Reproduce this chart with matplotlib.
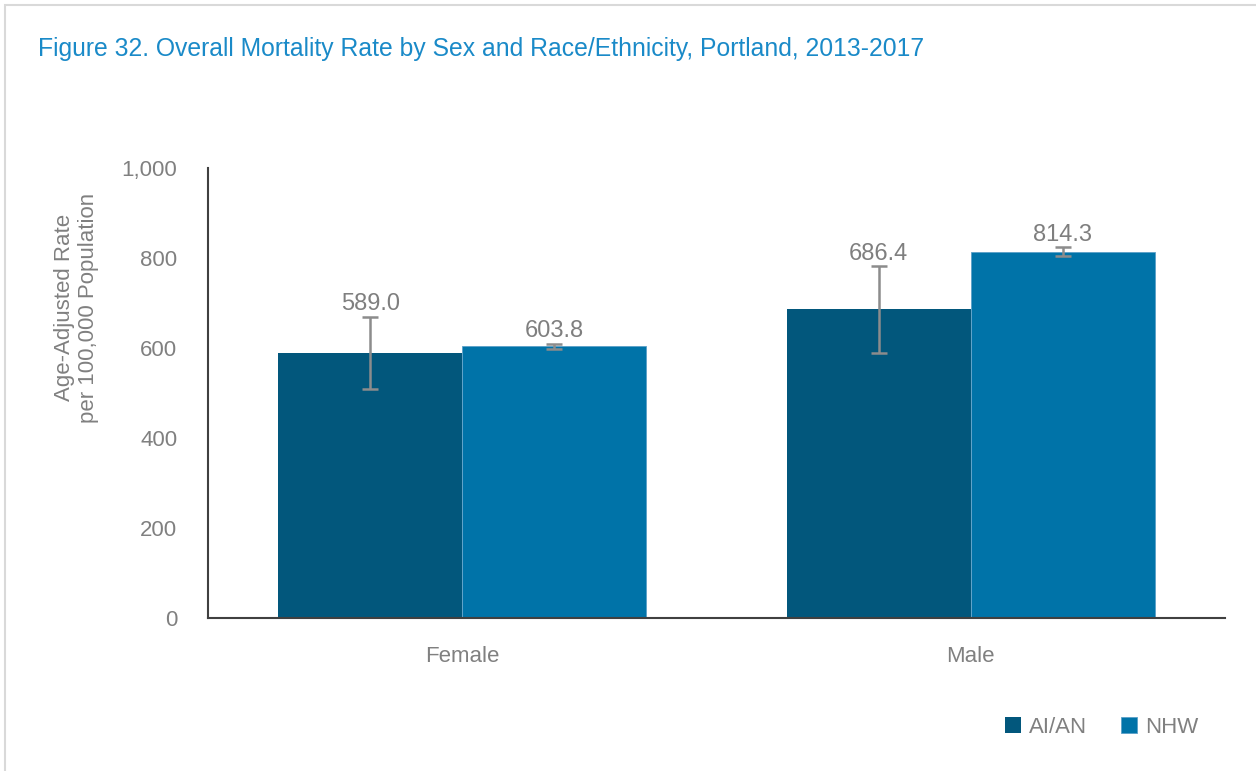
import matplotlib.pyplot as plt
from matplotlib.patches import Rectangle
import numpy as np

plt.rcParams['font.family'] = ['Liberation Sans Narrow', 'Liberation Sans', 'DejaVu Sans']

categories = ['Female', 'Male']
aian = [589.0, 686.4]
nhw = [603.8, 814.3]
aian_lo = [510, 590]
aian_hi = [670, 782]
nhw_lo = [597, 805]
nhw_hi = [610, 824]

gray = '#808080'
c_aian = '#02577c'
c_nhw = '#0073a8'

fig = plt.figure(figsize=(12.56, 7.71), dpi=100)
fig.patches.append(Rectangle((0.004, -0.01), 1.2, 1.004, transform=fig.transFigure,
                             fill=False, edgecolor='#d9d9d9', lw=1.5))
ax = fig.add_axes([0.1656, 0.1984, 0.8097, 0.5837])

x = np.arange(len(categories))
w = 0.362
b1 = ax.bar(x - w / 2, aian, w, color=c_aian, label='AI/AN')
b2 = ax.bar(x + w / 2, nhw, w, color=c_nhw, label='NHW', edgecolor='#5aa0c8', linewidth=0.6)

for xs, vals, lo, hi in [(x - w / 2, aian, aian_lo, aian_hi), (x + w / 2, nhw, nhw_lo, nhw_hi)]:
    err = [np.array(vals) - np.array(lo), np.array(hi) - np.array(vals)]
    ax.errorbar(xs, vals, yerr=err, fmt='none', ecolor='#8c8c8c', elinewidth=1.8,
                capsize=6, capthick=1.8)
    for xi, v, h in zip(xs, vals, hi):
        ax.text(xi, h + 3, f'{v:.1f}', ha='center', va='bottom', fontsize=17, color='#7f7f7f')

ax.set_xlim(-0.5, 1.5)
ax.set_ylim(0, 1000)
ax.set_yticks(range(0, 1001, 200))
ax.set_yticklabels([f'{v:,}' for v in range(0, 1001, 200)])
ax.set_xticks(x)
ax.set_xticklabels(categories)
ax.tick_params(axis='both', length=0, labelsize=16, labelcolor=gray)
ax.tick_params(axis='y', pad=22)
ax.tick_params(axis='x', pad=20)
for s in ['top', 'right']:
    ax.spines[s].set_visible(False)
ax.spines['left'].set_color('#404040')
ax.spines['bottom'].set_color('#404040')
ax.spines['left'].set_linewidth(1.5)
ax.spines['bottom'].set_linewidth(1.5)
ax.set_ylabel('Age-Adjusted Rate\nper 100,000 Population', fontsize=16, color=gray)
ax.yaxis.set_label_coords(-0.107, 0.69)

fig.text(0.030, 0.937, 'Figure 32. Overall Mortality Rate by Sex and Race/Ethnicity, Portland, 2013-2017',
         fontsize=17.8, color='#1a8ac8', va='center')

fig.legend(handles=[b1, b2], loc='center', bbox_to_anchor=(0.877, 0.057), ncol=2, frameon=False,
           fontsize=16, labelcolor=gray, handlelength=0.75, handleheight=0.75,
           handletextpad=0.35, columnspacing=1.5)

fig.savefig('out.png', dpi=100)
